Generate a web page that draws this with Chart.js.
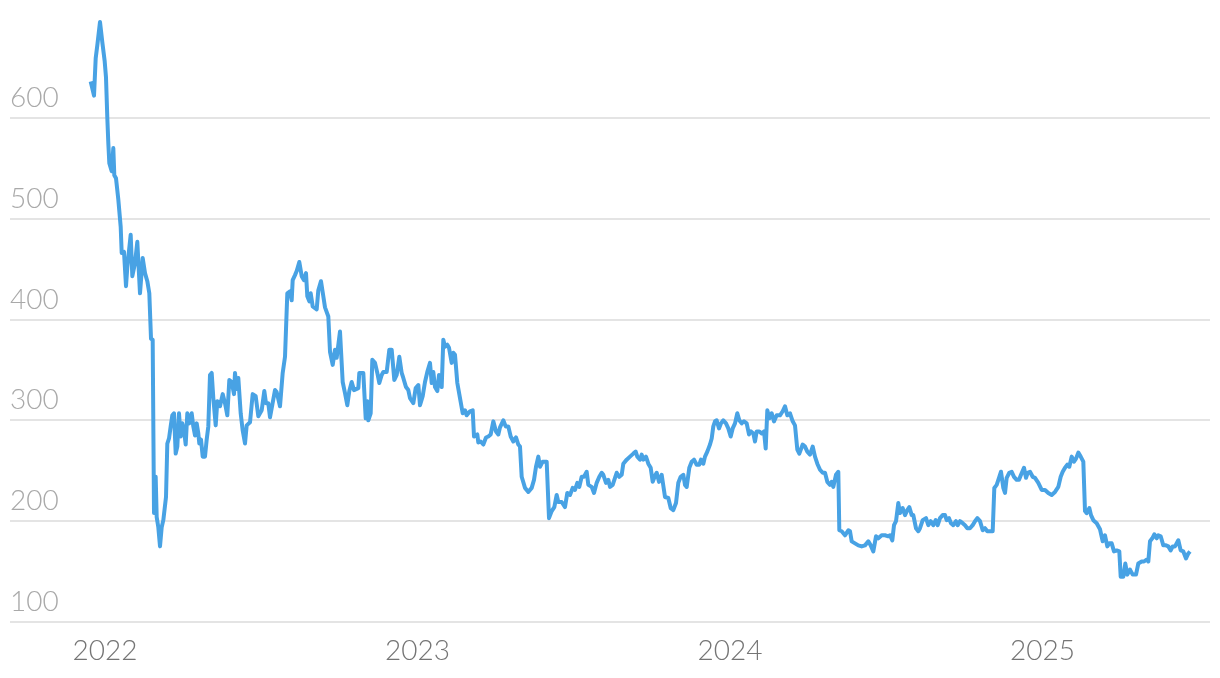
<!DOCTYPE html>
<html>
<head>
<meta charset="utf-8">
<script src="https://cdn.jsdelivr.net/npm/chart.js@4/dist/chart.umd.min.js"></script>
<style>
  html, body { margin: 0; padding: 0; background: #fff; }
  #wrap { width: 1220px; height: 678px; position: relative; }
</style>
</head>
<body>
<div id="wrap"><canvas id="chart"></canvas></div>
<script>
// time as decimal years
const dates = [
  2021.9542, 2021.9648, 2021.9702, 2021.9754, 2021.984, 2021.9914, 2021.999, 2022.0032, 2022.0074, 2022.0106,
  2022.0138, 2022.0214, 2022.0266, 2022.0298, 2022.0352, 2022.0426, 2022.0502, 2022.0534, 2022.0608, 2022.0672,
  2022.0714, 2022.0822, 2022.0874, 2022.096, 2022.1034, 2022.112, 2022.1206, 2022.128, 2022.1354, 2022.1418,
  2022.1472, 2022.1526, 2022.1568, 2022.1622, 2022.1654, 2022.1706, 2022.176, 2022.1814, 2022.1866, 2022.1952,
  2022.1994, 2022.2048, 2022.2102, 2022.2154, 2022.2208, 2022.2262, 2022.2314, 2022.2368, 2022.2422, 2022.2474,
  2022.2528, 2022.2582, 2022.2634, 2022.2698, 2022.2774, 2022.2826, 2022.288, 2022.2934, 2022.2986, 2022.3018,
  2022.3072, 2022.3126, 2022.32, 2022.3254, 2022.3306, 2022.336, 2022.3414, 2022.3466, 2022.3542, 2022.3594,
  2022.368, 2022.3766, 2022.384, 2022.3914, 2022.3978, 2022.4054, 2022.4128, 2022.416, 2022.4214, 2022.4266,
  2022.4342, 2022.4406, 2022.448, 2022.4534, 2022.464, 2022.4726, 2022.4822, 2022.4906, 2022.5014, 2022.5098,
  2022.5152, 2022.5226, 2022.528, 2022.544, 2022.5494, 2022.56, 2022.5686, 2022.576, 2022.5834, 2022.592,
  2022.5974, 2022.6006, 2022.608, 2022.6134, 2022.6218, 2022.6294, 2022.6368, 2022.6432, 2022.6474, 2022.6538,
  2022.6582, 2022.6646, 2022.6774, 2022.6826, 2022.6912, 2022.6986, 2022.704, 2022.7146, 2022.72, 2022.7286,
  2022.736, 2022.7414, 2022.752, 2022.7606, 2022.768, 2022.7754, 2022.7818, 2022.7894, 2022.7968, 2022.8106,
  2022.8138, 2022.8266, 2022.8342, 2022.8394, 2022.8426, 2022.8502, 2022.8554, 2022.864, 2022.8714, 2022.8778,
  2022.8854, 2022.8906, 2022.9014, 2022.9098, 2022.9174, 2022.9258, 2022.9334, 2022.9418, 2022.9494, 2022.9546,
  2022.9632, 2022.9706, 2022.976, 2022.9866, 2022.9942, 2023.0026, 2023.008, 2023.0166, 2023.024, 2023.0314,
  2023.04, 2023.0454, 2023.0506, 2023.056, 2023.0634, 2023.0688, 2023.0774, 2023.0826, 2023.088, 2023.0954,
  2023.1008, 2023.1094, 2023.1146, 2023.12, 2023.1274, 2023.136, 2023.1446, 2023.152, 2023.1574, 2023.168,
  2023.1766, 2023.1808, 2023.1914, 2023.1946, 2023.2022, 2023.2106, 2023.2192, 2023.2266, 2023.2342, 2023.2426,
  2023.2512, 2023.2586, 2023.264, 2023.2746, 2023.2822, 2023.2906, 2023.2982, 2023.3066, 2023.3152, 2023.3226,
  2023.328, 2023.3334, 2023.344, 2023.3546, 2023.3654, 2023.3728, 2023.3792, 2023.3866, 2023.392, 2023.4006,
  2023.4134, 2023.4208, 2023.4294, 2023.4378, 2023.4454, 2023.4506, 2023.4614, 2023.472, 2023.4794, 2023.488,
  2023.4966, 2023.504, 2023.5114, 2023.5178, 2023.5254, 2023.5328, 2023.5414, 2023.5466, 2023.5574, 2023.5648,
  2023.5734, 2023.5818, 2023.5894, 2023.5946, 2023.6032, 2023.6106, 2023.616, 2023.6246, 2023.632, 2023.6374,
  2023.6458, 2023.6534, 2023.6586, 2023.6694, 2023.68, 2023.6906, 2023.6982, 2023.7034, 2023.712, 2023.7174,
  2023.7226, 2023.7312, 2023.7386, 2023.7462, 2023.7526, 2023.76, 2023.7654, 2023.7728, 2023.7814, 2023.792,
  2023.8026, 2023.8102, 2023.8186, 2023.8272, 2023.8346, 2023.8422, 2023.8506, 2023.856, 2023.8614, 2023.8698,
  2023.8774, 2023.8848, 2023.8934, 2023.9018, 2023.9072, 2023.9146, 2023.92, 2023.9274, 2023.936, 2023.9414,
  2023.9466, 2023.952, 2023.9574, 2023.9648, 2023.9712, 2023.9786, 2023.9872, 2023.9946, 2024.0022, 2024.0086,
  2024.016, 2024.0234, 2024.0298, 2024.0374, 2024.0448, 2024.0534, 2024.0608, 2024.0672, 2024.0746, 2024.08,
  2024.0854, 2024.0938, 2024.1014, 2024.1088, 2024.1142, 2024.1194, 2024.1258, 2024.1334, 2024.1408, 2024.1494,
  2024.16, 2024.1686, 2024.176, 2024.1834, 2024.192, 2024.2006, 2024.208, 2024.2154, 2024.2218, 2024.2326,
  2024.24, 2024.2474, 2024.256, 2024.2646, 2024.272, 2024.2794, 2024.288, 2024.2966, 2024.304, 2024.3114,
  2024.32, 2024.3254, 2024.3306, 2024.3392, 2024.3466, 2024.3498, 2024.3574, 2024.368, 2024.3786, 2024.384,
  2024.3894, 2024.4, 2024.4106, 2024.4214, 2024.432, 2024.4426, 2024.4502, 2024.4586, 2024.4672, 2024.4746,
  2024.4854, 2024.496, 2024.5066, 2024.512, 2024.5194, 2024.5248, 2024.5312, 2024.5386, 2024.544, 2024.5526,
  2024.56, 2024.5674, 2024.5738, 2024.5814, 2024.5866, 2024.5952, 2024.6026, 2024.608, 2024.6166, 2024.6272,
  2024.6346, 2024.6422, 2024.6506, 2024.6582, 2024.6646, 2024.672, 2024.6806, 2024.688, 2024.6934, 2024.7008,
  2024.7072, 2024.7146, 2024.7232, 2024.7286, 2024.736, 2024.7446, 2024.752, 2024.7594, 2024.768, 2024.7766,
  2024.784, 2024.7914, 2024.8, 2024.8086, 2024.816, 2024.8234, 2024.832, 2024.8406, 2024.8458, 2024.8534,
  2024.8618, 2024.8672, 2024.8746, 2024.88, 2024.8854, 2024.8938, 2024.9014, 2024.9088, 2024.9174, 2024.9248,
  2024.9312, 2024.9408, 2024.9472, 2024.9526, 2024.96, 2024.9686, 2024.976, 2024.9866, 2024.9974, 2025.008,
  2025.0186, 2025.0294, 2025.04, 2025.0506, 2025.0582, 2025.0646, 2025.072, 2025.0794, 2025.0858, 2025.0934,
  2025.1008, 2025.1072, 2025.1146, 2025.1222, 2025.1306, 2025.136, 2025.1414, 2025.1498, 2025.1552, 2025.1626,
  2025.1734, 2025.184, 2025.1926, 2025.2, 2025.2074, 2025.2138, 2025.2214, 2025.2288, 2025.2374, 2025.2458,
  2025.2502, 2025.2586, 2025.265, 2025.2714, 2025.28, 2025.2886, 2025.2992, 2025.3066, 2025.3174, 2025.3248,
  2025.3334, 2025.3386, 2025.344, 2025.3514, 2025.3578, 2025.3654, 2025.3706, 2025.3782, 2025.3866, 2025.3952,
  2025.4026, 2025.4102, 2025.4166, 2025.424, 2025.4346, 2025.4422, 2025.4506, 2025.4592, 2025.4666, 2025.472
];

const prices = [
  636, 622, 659, 672, 695, 675, 656, 640, 600, 575,
  555, 547, 570, 543, 540, 519, 492, 466, 467, 433,
  452, 484, 443, 456, 477, 426, 461, 446, 438, 426,
  381, 380, 208, 244, 204, 194, 175, 194, 201, 224,
  277, 282, 294, 305, 307, 267, 274, 307, 284, 297,
  290, 276, 307, 297, 307, 294, 285, 297, 287, 277,
  281, 264, 264, 281, 294, 345, 347, 322, 295, 319,
  314, 326, 317, 305, 340, 338, 326, 347, 331, 342,
  307, 290, 277, 295, 298, 326, 324, 304, 310, 329,
  317, 317, 303, 330, 328, 314, 347, 363, 426, 428,
  419, 439, 444, 448, 457, 443, 439, 446, 423, 418,
  426, 413, 410, 429, 438, 423, 412, 403, 368, 355,
  370, 362, 388, 338, 327, 315, 329, 338, 330, 332,
  347, 347, 302, 319, 300, 307, 360, 357, 347, 337,
  345, 348, 348, 370, 370, 340, 345, 363, 347, 342,
  333, 330, 322, 317, 332, 335, 315, 324, 338, 348,
  357, 337, 348, 333, 329, 345, 333, 380, 373, 375,
  372, 357, 367, 365, 337, 322, 307, 310, 305, 309,
  310, 284, 286, 278, 279, 276, 283, 284, 286, 299,
  289, 286, 293, 300, 294, 294, 284, 279, 283, 276,
  274, 244, 233, 229, 233, 241, 254, 264, 254, 259,
  259, 203, 210, 214, 226, 219, 219, 214, 228, 226,
  233, 231, 238, 234, 244, 244, 249, 236, 234, 228,
  238, 244, 248, 246, 238, 241, 234, 236, 243, 248,
  244, 246, 257, 261, 264, 267, 269, 264, 261, 266,
  261, 264, 257, 253, 239, 245, 248, 239, 246, 224,
  223, 213, 211, 218, 238, 244, 246, 236, 234, 253,
  259, 261, 256, 256, 261, 257, 264, 269, 276, 282,
  294, 299, 300, 292, 297, 300, 297, 292, 284, 292,
  297, 307, 300, 297, 299, 297, 286, 289, 287, 279,
  289, 289, 287, 289, 272, 310, 302, 307, 299, 305,
  305, 309, 314, 305, 307, 299, 295, 271, 267, 276,
  274, 269, 266, 274, 264, 257, 251, 248, 248, 239,
  236, 239, 234, 246, 249, 191, 190, 186, 191, 190,
  180, 178, 176, 175, 176, 180, 176, 170, 185, 183,
  186, 186, 185, 186, 181, 196, 200, 218, 208, 213,
  206, 211, 214, 206, 206, 193, 190, 193, 201, 203,
  196, 200, 196, 201, 196, 203, 206, 206, 201, 203,
  198, 196, 200, 196, 200, 198, 196, 193, 193, 196,
  200, 203, 200, 191, 193, 190, 190, 190, 233, 236,
  244, 249, 233, 228, 243, 248, 249, 244, 241, 241,
  246, 253, 243, 248, 249, 244, 243, 238, 231, 231,
  228, 226, 229, 234, 244, 249, 253, 256, 254, 264,
  259, 262, 268, 264, 259, 210, 208, 213, 206, 201,
  198, 192, 180, 186, 175, 178, 178, 170, 171, 170,
  145, 145, 158, 147, 152, 147, 147, 158, 160, 160,
  162, 160, 180, 183, 187, 183, 186, 185, 176, 176,
  175, 171, 175, 175, 181, 171, 170, 163, 168, 170
];

const yearTicks = [2022, 2023, 2024, 2025];
const valueTicks = [100, 200, 300, 400, 500, 600];

const points = dates.map((d, i) => ({ x: d, y: prices[i] }));

const ctx = document.getElementById('chart').getContext('2d');
new Chart(ctx, {
  type: 'line',
  data: {
    datasets: [{
      data: points,
      borderColor: '#48a2e4',
      borderWidth: 4,
      borderJoinStyle: 'round',
      pointRadius: 0,
      tension: 0,
      fill: false
    }]
  },
  options: {
    responsive: true,
    maintainAspectRatio: false,
    animation: false,
    layout: { padding: { top: 17, left: 10, right: 10, bottom: 0 } },
    plugins: {
      legend: { display: false },
      tooltip: { enabled: false }
    },
    scales: {
      x: {
        type: 'linear',
        min: 2021.696,
        max: 2025.536,
        afterBuildTicks: scale => { scale.ticks = yearTicks.map(v => ({ value: v })); },
        afterFit: scale => { scale.height = 56; },
        grid: { display: false, drawTicks: false },
        border: { display: false },
        ticks: {
          color: '#757575',
          padding: 12,
          maxRotation: 0,
          autoSkip: false,
          font: { family: 'Lato', size: 28, weight: '300' },
          callback: v => String(v)
        }
      },
      y: {
        min: 100,
        max: 700,
        afterBuildTicks: scale => { scale.ticks = valueTicks.map(v => ({ value: v })); },
        grid: { color: '#e4e4e4', lineWidth: 2, drawTicks: false },
        border: { display: false },
        ticks: {
          mirror: true,
          padding: 0,
          labelOffset: -20,
          color: '#a9a9a9',
          font: { family: 'Lato', size: 28, weight: '300' },
          callback: v => String(v)
        }
      }
    }
  }
});
</script>
</body>
</html>
